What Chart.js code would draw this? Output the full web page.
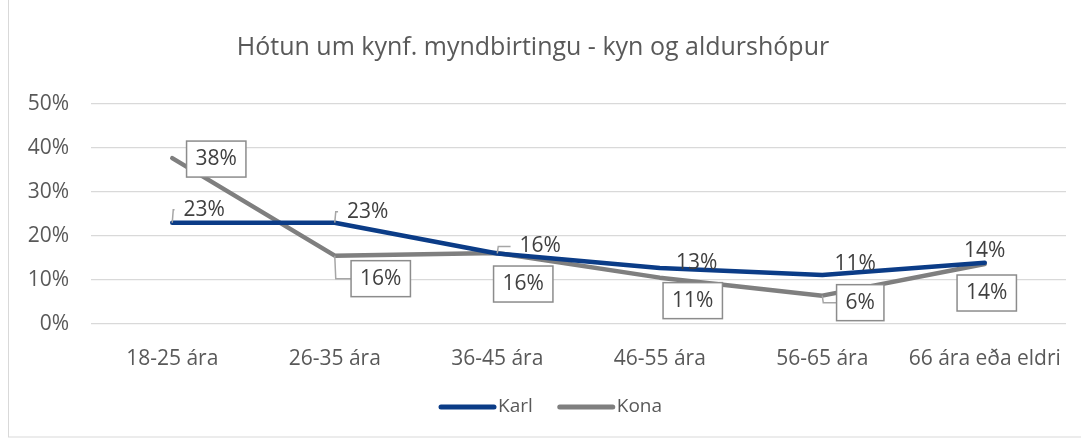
<!DOCTYPE html>
<html>
<head>
<meta charset="utf-8">
<script src="https://cdn.jsdelivr.net/npm/chart.js@4"></script>
<style>
  html, body { margin: 0; padding: 0; background: #fff; }
  #wrap { position: absolute; left: 0; top: 0; width: 1081px; height: 439px; }
</style>
</head>
<body>
<div id="wrap"><canvas id="c" width="1081" height="439"></canvas></div>
<script>
const categories = ['18-25 ára', '26-35 ára', '36-45 ára', '46-55 ára', '56-65 ára', '66 ára eða eldri']
const karl = [23, 23, 16, 12.7, 11.1, 13.9]
const kona = [37.7, 15.5, 16.1, 10.5, 6.4, 13.6]
const karlLabels = ['23%', '23%', '16%', '13%', '11%', '14%']
const konaLabels = ['38%', '16%', '16%', '11%', '6%', '14%']
const yTicks = [0, 10, 20, 30, 40, 50]

// label placement, pixels from the point
const karlOffsets = [[32, -13], [33, -11], [43, -7], [37, -5], [33, -11], [0, -12]]
const konaOffsets = [[44, 1], [46, 23], [26, 31], [33, 23], [38, 7], [2, 29]]
const karlLeader = [true, true, true, false, false, false]
const konaLeader = [false, true, false, false, true, false]

const textColor = '#595959'
const fontFamily = '"Open Sans", sans-serif'

const frame = {
    id: 'frame',
    beforeDraw(chart) {
        const ctx = chart.ctx
        ctx.save()
        ctx.strokeStyle = '#d9d9d9'
        ctx.lineWidth = 1
        ctx.strokeRect(8.5, -1, 1100, 438)
        ctx.restore()
    }
}

// legend drawn by hand, Excel style: short line then the name right after it
const lineLegend = {
    id: 'lineLegend',
    afterDraw(chart) {
        const ctx = chart.ctx
        ctx.save()
        ctx.font = '19px ' + fontFamily
        ctx.textBaseline = 'middle'
        let x = 441
        const y = 407
        chart.data.datasets.forEach(ds => {
            ctx.strokeStyle = ds.borderColor
            ctx.lineWidth = 5
            ctx.lineCap = 'round'
            ctx.beginPath()
            ctx.moveTo(x, y)
            ctx.lineTo(x + 53, y)
            ctx.stroke()
            ctx.fillStyle = textColor
            ctx.fillText(ds.label, x + 57, y)
            x += 57 + ctx.measureText(ds.label).width + 27
        })
        ctx.restore()
    }
}

const pointLabels = {
    id: 'pointLabels',
    afterDatasetsDraw(chart) {
        const ctx = chart.ctx
        const sets = [
            { labels: karlLabels, offsets: karlOffsets, leader: karlLeader, box: false },
            { labels: konaLabels, offsets: konaOffsets, leader: konaLeader, box: true }
        ]
        ctx.save()
        ctx.font = '21px ' + fontFamily
        ctx.textAlign = 'center'
        ctx.textBaseline = 'middle'
        sets.forEach((s, di) => {
            const meta = chart.getDatasetMeta(di)
            meta.data.forEach((pt, i) => {
                const cx = pt.x + s.offsets[i][0]
                const cy = pt.y + s.offsets[i][1]
                const w = ctx.measureText(s.labels[i]).width + 18
                const h = 36
                const left = cx - w / 2
                if (s.leader[i]) {
                    ctx.strokeStyle = '#a6a6a6'
                    ctx.lineWidth = 1.5
                    ctx.beginPath()
                    ctx.moveTo(pt.x, pt.y)
                    ctx.lineTo(pt.x + 1, cy)
                    ctx.lineTo(left, cy)
                    ctx.stroke()
                }
                if (s.box) {
                    ctx.fillStyle = '#fff'
                    ctx.fillRect(left, cy - h / 2, w, h)
                    ctx.strokeStyle = '#8c8c8c'
                    ctx.lineWidth = 1.5
                    ctx.strokeRect(left, cy - h / 2, w, h)
                }
                ctx.fillStyle = '#404040'
                ctx.fillText(s.labels[i], cx, cy)
            })
        })
        ctx.restore()
    }
}

const chart = new Chart(document.getElementById('c'), {
    type: 'line',
    data: {
        labels: categories,
        datasets: [
            { label: 'Karl', data: karl, borderColor: '#0b3c87', backgroundColor: '#0b3c87', borderWidth: 4.5 },
            { label: 'Kona', data: kona, borderColor: '#7f7f7f', backgroundColor: '#7f7f7f', borderWidth: 4.5 }
        ]
    },
    options: {
        responsive: false,
        animation: false,
        layout: { padding: { left: 0, right: 15, top: 33, bottom: 52 } },
        elements: {
            point: { radius: 0, hoverRadius: 0 },
            line: { tension: 0, borderCapStyle: 'round', borderJoinStyle: 'round' }
        },
        scales: {
            x: {
                offset: true,
                grid: { display: false },
                border: { display: false },
                ticks: { color: textColor, font: { size: 21, family: fontFamily }, padding: 15, maxRotation: 0 }
            },
            y: {
                min: 0,
                max: 50,
                afterFit(scale) { scale.width = 91 },
                afterBuildTicks(scale) { scale.ticks = yTicks.map(v => ({ value: v })) },
                grid: { color: '#d9d9d9', lineWidth: 1.2, drawTicks: false },
                border: { display: false },
                ticks: {
                    color: textColor,
                    font: { size: 21, family: fontFamily },
                    padding: 22,
                    callback: v => v + '%'
                }
            }
        },
        plugins: {
            tooltip: { enabled: false },
            legend: { display: false },
            title: {
                display: true,
                text: 'Hótun um kynf. myndbirtingu - kyn og aldurshópur',
                color: textColor,
                font: { size: 25, weight: 'normal', family: fontFamily },
                padding: { top: 0, bottom: 41 }
            }
        }
    },
    plugins: [frame, pointLabels, lineLegend]
})
</script>
</body>
</html>
